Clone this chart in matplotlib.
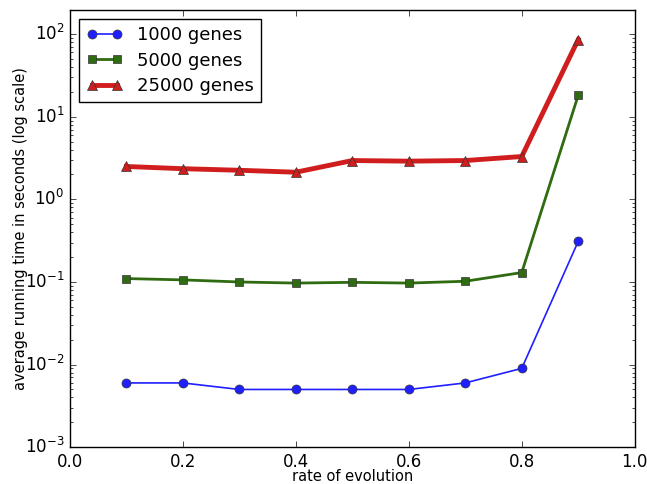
import matplotlib
matplotlib.use("Agg")
import matplotlib.pyplot as plt

plt.style.use('classic')

rates = [0.1, 0.2, 0.3, 0.4, 0.5, 0.6, 0.7, 0.8, 0.9]
genes_1000 = [0.006, 0.006, 0.005, 0.005, 0.005, 0.005, 0.006, 0.009, 0.31]
genes_5000 = [0.11, 0.106, 0.1, 0.097, 0.099, 0.097, 0.102, 0.13, 18.2]
genes_25000 = [2.5, 2.35, 2.25, 2.13, 2.95, 2.9, 2.95, 3.3, 86.0]
labels = ['1000 genes', '5000 genes', '25000 genes']

fig = plt.figure(figsize=(6.47, 4.84), dpi=100, facecolor='white')
ax = fig.add_axes([0.108, 0.076, 0.873, 0.903])
ax.set_facecolor('white')

ax.plot(rates, genes_1000, '-o', color='#1f1fff', lw=1.2, ms=6.5,
        mec='#333333', mfc='#1f1fff', label=labels[0])
ax.plot(rates, genes_5000, '-s', color='#2f6b10', lw=2, ms=6,
        mec='#333333', mfc='#2f6b10', label=labels[1])
ax.plot(rates, genes_25000, '-^', color='#d01e1e', lw=3.5, ms=7,
        mec='#333333', mfc='#d01e1e', label=labels[2])

ax.set_yscale('log')
ax.set_xlim(0.0, 1.0)
ax.set_ylim(1e-3, 195)
ax.set_xticks([0.0, 0.2, 0.4, 0.6, 0.8, 1.0])
ax.tick_params(labelsize=12)
ax.set_xlabel('rate of evolution', fontsize=10.5, labelpad=-1.5)
ax.set_ylabel('average running time in seconds (log scale)', fontsize=10.5,
              labelpad=-2)

leg = ax.legend(loc='upper left', numpoints=2, fontsize=13, fancybox=False,
                borderpad=0.4, handlelength=2.0, labelspacing=0.4)
leg.get_frame().set_edgecolor('black')

fig.savefig('out.png', dpi=100, facecolor='white')
